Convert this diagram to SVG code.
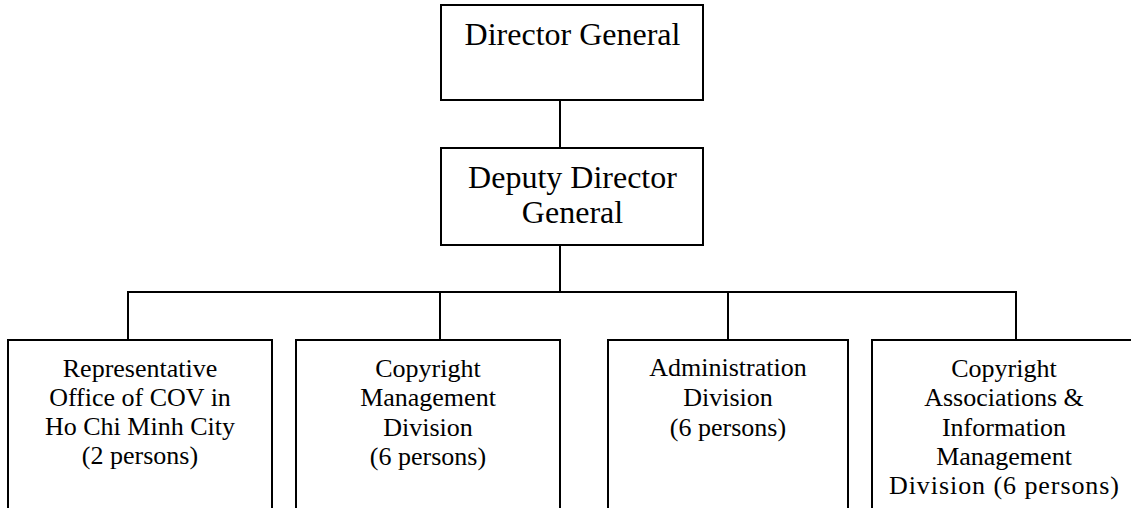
<svg xmlns="http://www.w3.org/2000/svg" width="1131" height="508" viewBox="0 0 1131 508">
<style>
.box{fill:#fff;stroke:#000;stroke-width:2}
.ln{stroke:#000;stroke-width:2;fill:none}
.t{font-family:"Liberation Serif","Times New Roman",serif;fill:#000;text-anchor:middle}
.big{font-size:32px}
.sm{font-size:26px}
</style>
<rect width="1131" height="508" fill="#fff"/>
<g id="connectors">
<line class="ln" x1="560" y1="100" x2="560" y2="148"/>
<line class="ln" x1="560" y1="245" x2="560" y2="292"/>
<polyline class="ln" points="128,340 128,292 1016,292 1016,340"/>
<line class="ln" x1="440" y1="292" x2="440" y2="340"/>
<line class="ln" x1="728" y1="292" x2="728" y2="340"/>
</g>
<g id="director-general">
<rect class="box" x="441" y="5" width="262" height="95"/>
<text class="t big" x="572.5" y="45">Director General</text>
</g>
<g id="deputy-director-general">
<rect class="box" x="441" y="148" width="262" height="97"/>
<text class="t big" x="572.5" y="188">Deputy Director</text>
<text class="t big" x="572.5" y="223">General</text>
</g>
<g id="representative-office">
<rect class="box" x="8" y="340" width="264" height="190"/>
<text class="t sm" x="140" y="377">Representative</text>
<text class="t sm" x="140" y="406">Office of COV in</text>
<text class="t sm" x="140" y="435">Ho Chi Minh City</text>
<text class="t sm" x="140" y="464">(2 persons)</text>
</g>
<g id="copyright-management">
<rect class="box" x="296" y="340" width="264" height="190"/>
<text class="t sm" x="428" y="377">Copyright</text>
<text class="t sm" x="428" y="406">Management</text>
<text class="t sm" x="428" y="436">Division</text>
<text class="t sm" x="428" y="465">(6 persons)</text>
</g>
<g id="administration">
<rect class="box" x="608" y="340" width="240" height="190"/>
<text class="t sm" x="728" y="376">Administration</text>
<text class="t sm" x="728" y="406">Division</text>
<text class="t sm" x="728" y="436">(6 persons)</text>
</g>
<g id="copyright-associations">
<rect class="box" x="872" y="340" width="270" height="190"/>
<text class="t sm" x="1004" y="377">Copyright</text>
<text class="t sm" x="1004" y="406">Associations &amp;</text>
<text class="t sm" x="1004" y="436">Information</text>
<text class="t sm" x="1004" y="465">Management</text>
<text class="t sm" x="1004" y="494" textLength="230">Division (6 persons)</text>
</g>
</svg>
